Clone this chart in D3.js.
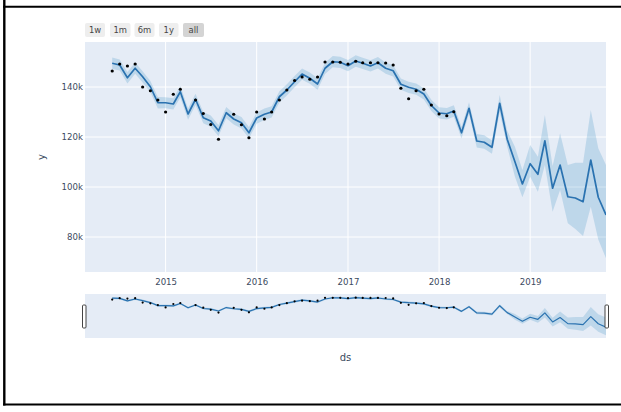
<!DOCTYPE html>
<html>
<head>
<meta charset="utf-8">
<script src="https://cdn.jsdelivr.net/npm/d3@7"></script>
<style>
  html, body { margin: 0; padding: 0; background: #fff; }
  svg { display: block; }
</style>
</head>
<body>
<svg id="chart" width="621" height="412"></svg>
<script>
// ---------- data ----------
const months = [
  "2014-06-01","2014-07-01","2014-08-01","2014-09-01","2014-10-01","2014-11-01","2014-12-01",
  "2015-01-01","2015-02-01","2015-03-01","2015-04-01","2015-05-01","2015-06-01","2015-07-01",
  "2015-08-01","2015-09-01","2015-10-01","2015-11-01","2015-12-01",
  "2016-01-01","2016-02-01","2016-03-01","2016-04-01","2016-05-01","2016-06-01","2016-07-01",
  "2016-08-01","2016-09-01","2016-10-01","2016-11-01","2016-12-01",
  "2017-01-01","2017-02-01","2017-03-01","2017-04-01","2017-05-01","2017-06-01","2017-07-01",
  "2017-08-01","2017-09-01","2017-10-01","2017-11-01","2017-12-01",
  "2018-01-01","2018-02-01","2018-03-01","2018-04-01","2018-05-01","2018-06-01","2018-07-01",
  "2018-08-01","2018-09-01","2018-10-01","2018-11-01","2018-12-01",
  "2019-01-01","2019-02-01","2019-03-01","2019-04-01","2019-05-01","2019-06-01","2019-07-01",
  "2019-08-01","2019-09-01","2019-10-01","2019-11-01"
];
// observed values (null = missing month)
const actual = [
  146400,149200,148400,149200,140000,138500,134800,
  130000,137100,139100,null,134800,129400,125000,
  119100,null,129100,124900,119700,
  130000,127200,130000,134800,138800,142600,144000,
  143100,144000,150000,150000,149900,
  149200,150300,149700,149700,149700,149600,148800,
  139500,135300,138500,139100,132800,
  129200,128500,130100
];
const yhat = [
  149500,148800,143700,147500,144100,140100,133700,
  133700,133200,138100,129200,135100,127700,126400,
  122500,129700,127200,125700,121700,
  127600,129100,130000,136100,138800,142100,145200,
  143500,141200,147500,150100,149900,
  148500,150400,149500,148400,149700,147500,146500,
  141100,139900,139100,137200,132600,
  129600,129300,130400,121700,131500,118400,117900,
  115900,133500,119100,110100,101200,
  109300,105100,118500,99500,108800,96100,95600,
  94100,110800,95900,88800
];
const yhatUpper = [
  151800,151000,146000,149800,146300,142400,136000,
  135900,135500,140400,131400,137300,130000,128600,
  124800,132000,129400,128000,124000,
  129800,131400,132300,138300,141100,144400,147400,
  145800,143500,149700,152400,152100,
  150800,152700,151700,150700,152000,149800,148700,
  143400,142100,141400,139500,134900,
  131900,131600,132700,124100,133900,121200,120700,
  118600,136800,122500,116100,106800,
  116800,112100,128800,108400,121500,108800,109700,
  109700,130800,115500,108800
];
const yhatLower = [
  147200,146600,141400,145300,141800,137900,131400,
  131500,131000,135800,126900,132800,125500,124100,
  120300,127500,125000,123400,119500,
  125300,126800,127800,133800,136600,139900,142900,
  141300,138900,145200,147900,147600,
  146300,148100,147200,146200,147400,145300,144200,
  138900,137600,136900,135000,130400,
  127400,127000,128100,119400,129200,115800,115300,
  113300,130000,116200,104100,95900,
  104100,98100,108800,90100,98800,85500,83200,
  80400,92100,79000,71500
];
const yTickValues = [80000, 100000, 120000, 140000];
const xTickYears = ["2015", "2016", "2017", "2018", "2019"];
const buttonLabels = ["1w", "1m", "6m", "1y", "all"];
const xTitle = "ds";
const yTitle = "y";

// ---------- setup ----------
const parse = d3.utcParse("%Y-%m-%d");
const dates = months.map(parse);
const rows = dates.map((d, i) => ({
  date: d, actual: i < actual.length ? actual[i] : null,
  yhat: yhat[i], upper: yhatUpper[i], lower: yhatLower[i]
}));

const svg = d3.select("#chart");
const FONT = "'DejaVu Sans', Verdana, sans-serif";
const TEXT = "#3b4a60";
const BG = "#E5ECF6";
const LINE = "#2a72b0";
const FILL = "rgba(0,114,178,0.17)";

const plot = { left: 85, right: 606, top: 42, bottom: 272 };
const slider = { top: 294, bottom: 338 };

const x = d3.scaleUtc()
  .domain([parse("2014-02-12"), dates[dates.length - 1]])
  .range([plot.left, plot.right]);
const y = d3.scaleLinear().domain([66000, 158000]).range([plot.bottom, plot.top]);
const ys = d3.scaleLinear().domain([66000, 158000]).range([slider.bottom, slider.top]);

// frame lines
svg.append("line").attr("x1", 3).attr("x2", 621).attr("y1", 6.7).attr("y2", 6.7)
  .attr("stroke", "#000").attr("stroke-width", 2);
svg.append("line").attr("x1", 4.3).attr("x2", 4.3).attr("y1", 0).attr("y2", 405.6)
  .attr("stroke", "#000").attr("stroke-width", 2.4);
svg.append("line").attr("x1", 3).attr("x2", 621).attr("y1", 404.5).attr("y2", 404.5)
  .attr("stroke", "#000").attr("stroke-width", 2.2);

// clip paths
const defs = svg.append("defs");
defs.append("clipPath").attr("id", "clipMain").append("rect")
  .attr("x", plot.left).attr("y", plot.top)
  .attr("width", plot.right - plot.left).attr("height", plot.bottom - plot.top);
defs.append("clipPath").attr("id", "clipSlider").append("rect")
  .attr("x", plot.left).attr("y", slider.top)
  .attr("width", plot.right - plot.left).attr("height", slider.bottom - slider.top);

// main background
svg.append("rect").attr("x", plot.left).attr("y", plot.top)
  .attr("width", plot.right - plot.left).attr("height", plot.bottom - plot.top)
  .attr("fill", BG);

// gridlines
const gx = svg.append("g");
const yearTicks = xTickYears.map(s => parse(s + "-01-01"));
gx.selectAll("line.vx").data(yearTicks).join("line")
  .attr("x1", d => x(d)).attr("x2", d => x(d))
  .attr("y1", plot.top).attr("y2", plot.bottom)
  .attr("stroke", "#fff").attr("stroke-width", 1);
gx.selectAll("line.hy").data(yTickValues).join("line")
  .attr("x1", plot.left).attr("x2", plot.right)
  .attr("y1", d => y(d)).attr("y2", d => y(d))
  .attr("stroke", "#fff").attr("stroke-width", 1);

// axes (labels only)
const xAxis = d3.axisBottom(x).tickValues(yearTicks).tickFormat(d3.utcFormat("%Y")).tickSize(0).tickPadding(0);
const xa = svg.append("g").attr("transform", `translate(0,${plot.bottom})`).call(xAxis);
xa.select(".domain").remove();
xa.selectAll("text").attr("y", 7).attr("dy", "0.71em")
  .attr("font-family", FONT).attr("font-size", 8.6).attr("fill", TEXT);

const yAxis = d3.axisLeft(y).tickValues(yTickValues).tickFormat(d3.format("~s")).tickSize(0).tickPadding(2);
const ya = svg.append("g").attr("transform", `translate(${plot.left},0)`).call(yAxis);
ya.select(".domain").remove();
ya.selectAll("text").attr("font-family", FONT).attr("font-size", 8.6).attr("fill", TEXT);

// axis titles
svg.append("text").text(yTitle)
  .attr("transform", `translate(41,${(plot.top + plot.bottom) / 2}) rotate(-90)`)
  .attr("text-anchor", "middle").attr("dy", "0.35em")
  .attr("font-family", FONT).attr("font-size", 10).attr("fill", TEXT);
svg.append("text").text(xTitle)
  .attr("x", (plot.left + plot.right) / 2).attr("y", 357).attr("dy", "0.35em")
  .attr("text-anchor", "middle")
  .attr("font-family", FONT).attr("font-size", 10).attr("fill", TEXT);

// series drawing helper
function drawSeries(g, ys, lineW, r) {
  const area = d3.area().x(d => x(d.date)).y0(d => ys(d.lower)).y1(d => ys(d.upper));
  const line = d3.line().x(d => x(d.date)).y(d => ys(d.yhat));
  g.append("path").datum(rows).attr("d", area).attr("fill", FILL);
  g.append("path").datum(rows).attr("d", line).attr("fill", "none")
    .attr("stroke", LINE).attr("stroke-width", lineW).attr("stroke-linejoin", "round");
  g.selectAll("circle").data(rows.filter(d => d.actual != null)).join("circle")
    .attr("cx", d => x(d.date)).attr("cy", d => ys(d.actual))
    .attr("r", r).attr("fill", "#000");
}
drawSeries(svg.append("g").attr("clip-path", "url(#clipMain)"), y, 1.7, 1.6);

// range slider
svg.append("rect").attr("x", plot.left).attr("y", slider.top)
  .attr("width", plot.right - plot.left).attr("height", slider.bottom - slider.top)
  .attr("fill", BG);
drawSeries(svg.append("g").attr("clip-path", "url(#clipSlider)"), ys, 1.2, 1.1);
const hy = slider.top + 11, hh = 23;
[plot.left - 2.5, plot.right - 1].forEach(hx => {
  svg.append("rect").attr("x", hx).attr("y", hy).attr("width", 3.5).attr("height", hh)
    .attr("rx", 1).attr("fill", "#fff").attr("stroke", "#444").attr("stroke-width", 1);
});

// range selector buttons
const btnX = [85, 110, 134.5, 159, 183];
const btnW = [20, 20.5, 20, 19.5, 21];
const bg = svg.append("g");
buttonLabels.forEach((lab, i) => {
  bg.append("rect").attr("x", btnX[i]).attr("y", 23).attr("width", btnW[i]).attr("height", 14)
    .attr("rx", 2).attr("fill", i === buttonLabels.length - 1 ? "#d4d4d4" : "#eeeeee");
  bg.append("text").text(lab)
    .attr("x", btnX[i] + btnW[i] / 2).attr("y", 30).attr("dy", "0.35em")
    .attr("text-anchor", "middle")
    .attr("font-family", FONT).attr("font-size", 8.4).attr("fill", "#444");
});
</script>
</body>
</html>
